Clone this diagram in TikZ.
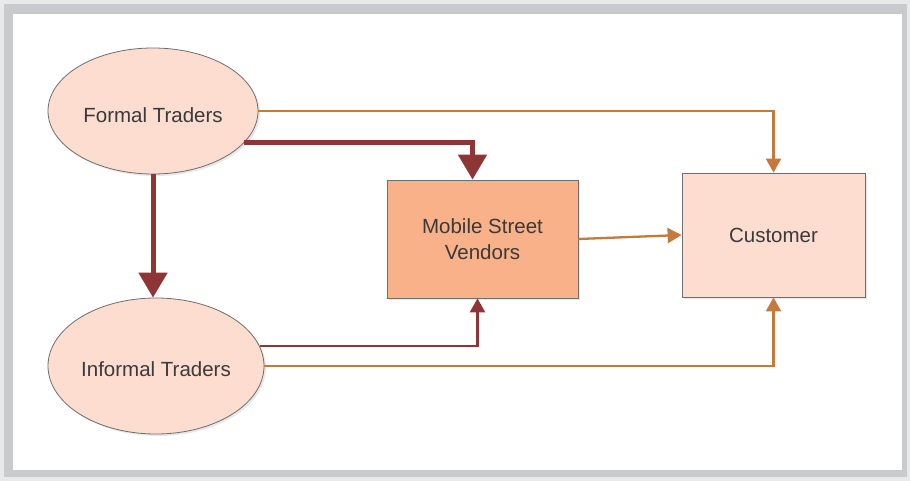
\documentclass[tikz,border=0pt]{standalone}
\usepackage{fontspec}
\setmainfont{Liberation Sans}
\usetikzlibrary{shapes.geometric,arrows.meta,shadows}
\definecolor{darkred}{HTML}{8E3535}
\definecolor{orng}{HTML}{C47A3C}
\definecolor{pale}{HTML}{FCDDD0}
\definecolor{salmon}{HTML}{F8B189}
\definecolor{bordr}{HTML}{6E6E6E}
\definecolor{txt}{HTML}{3A3A3A}
\definecolor{frameout}{HTML}{E9E9E9}
\definecolor{framein}{HTML}{C9CACC}
\begin{document}
\begin{tikzpicture}[x=1pt,y=-1pt,
  shad/.style={drop shadow={opacity=0.18,shadow xshift=2pt,shadow yshift=-2pt}},
  oval/.style={ellipse,draw=bordr,line width=0.8pt,fill=pale,inner sep=0pt,shad,
    font=\fontsize{20.5}{24}\selectfont,text=txt},
  box/.style={rectangle,draw=bordr,line width=0.8pt,inner sep=0pt,shad,align=center,
    font=\fontsize{20.5}{26}\selectfont,text=txt},
  thickred/.style={draw=darkred,line width=5pt,-{Triangle[length=25pt,width=28pt]}},
  thinred/.style={draw=darkred,line width=2.6pt,-{Triangle[length=14pt,width=15pt]}},
  orangeline/.style={draw=orng,line width=2.3pt,-{Triangle[length=14pt,width=15pt]}}
]
\fill[frameout] (0,0) rectangle (910,481);
\fill[framein] (4,4) rectangle (907,477);
\fill[white] (13,14) rectangle (902,470);
\useasboundingbox (0,0) rectangle (910,481);

\node[oval,minimum width=210pt,minimum height=126pt] (ft) at (153,111) {\raisebox{-4pt}[15pt][0pt]{Formal Traders}};
\node[oval,minimum width=216pt,minimum height=136pt] (it) at (156,366) {\raisebox{-3pt}[15pt][0pt]{Informal Traders}};
\node[box,fill=salmon,minimum width=191pt,minimum height=118pt] (msv) at (482.5,239) {Mobile Street\\Vendors};
\node[box,fill=pale,minimum width=183pt,minimum height=124pt] (cu) at (773.5,235) {Customer};

\draw[orangeline] (ft.east) -| (cu.north);
\draw[thickred] (ft.-19) -| ([xshift=-10pt]msv.north);
\draw[thickred] (ft.south) -- (ft.south |- it.north);
\draw[thinred] (it.11) -| ([xshift=-5pt]msv.south);
\draw[orangeline] (it.east) -| (cu.south);
\draw[orangeline] (msv.east) -- (cu.west);
\end{tikzpicture}
\end{document}
